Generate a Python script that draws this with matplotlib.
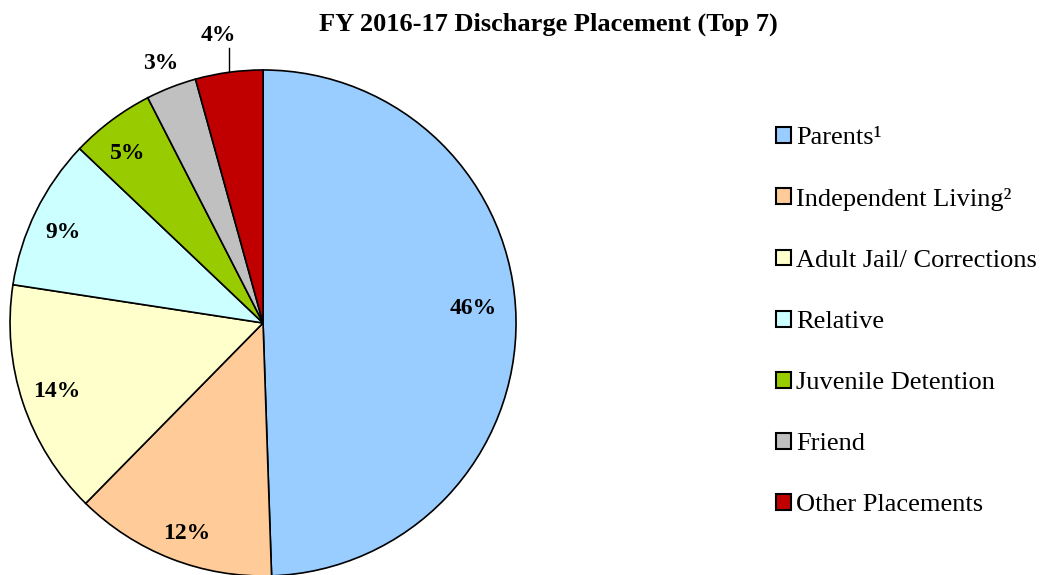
import matplotlib
matplotlib.use("Agg")
import numpy as np
import matplotlib.pyplot as plt
from matplotlib.patches import Patch

categories = ["Parents\u00b9", "Independent Living\u00b2", "Adult Jail/ Corrections",
              "Relative", "Juvenile Detention", "Friend", "Other Placements"]
values = [46, 12, 14, 9, 5, 3, 4]
colors = ["#99CCFF", "#FFCC99", "#FFFFCC", "#CCFFFF", "#99CC00", "#C0C0C0", "#C00000"]

plt.rcParams['font.family'] = ['Liberation Serif', 'DejaVu Serif']

fig = plt.figure(figsize=(10.44, 5.75), dpi=100)
ax = fig.add_axes([0.0096, -0.0017, 0.4847, 0.88])

wedges, _ = ax.pie(values, colors=colors, startangle=90, counterclock=False,
                   radius=1.0, wedgeprops=dict(edgecolor="black", linewidth=1.2))
ax.set_xlim(-1, 1)
ax.set_ylim(-1, 1)
ax.set_aspect("equal")

# label placement (radius, angle nudge in degrees) per slice, like Excel's
label_r = [0.833, 0.878, 0.858, 0.868, 0.861, 1.109, 1.156]
label_dang = [3.5, 1.2, -0.4, 1.5, 1.7, 0.0, 1.0]

for w, v, r, da in zip(wedges, values, label_r, label_dang):
    mid = np.deg2rad((w.theta1 + w.theta2) / 2 + da)
    x, y = r * np.cos(mid), r * np.sin(mid) - 0.006
    ax.text(x, y, f"{v}%", ha="center", va="center", fontsize=17,
            fontweight="bold", clip_on=False)
    if r > 1.13:
        # leader line from the slice edge up to the outside label
        lx = x + 0.042
        ly = np.sqrt(1 - lx ** 2)
        ax.plot([lx, lx], [ly, y - 0.05], color="black", lw=1.0,
                clip_on=False)

fig.text(0.525, 0.957, "FY 2016-17 Discharge Placement (Top 7)", ha="center",
         va="center", fontsize=19, fontweight="bold")

handles = [Patch(facecolor=c, edgecolor="black", linewidth=1.5) for c in colors]
fig.legend(handles, categories, loc="center left", bbox_to_anchor=(0.721, 0.441),
           frameon=False, fontsize=19, handlelength=0.55, handleheight=0.55,
           handletextpad=0.2, labelspacing=1.47)

fig.savefig("out.png", dpi=100)
